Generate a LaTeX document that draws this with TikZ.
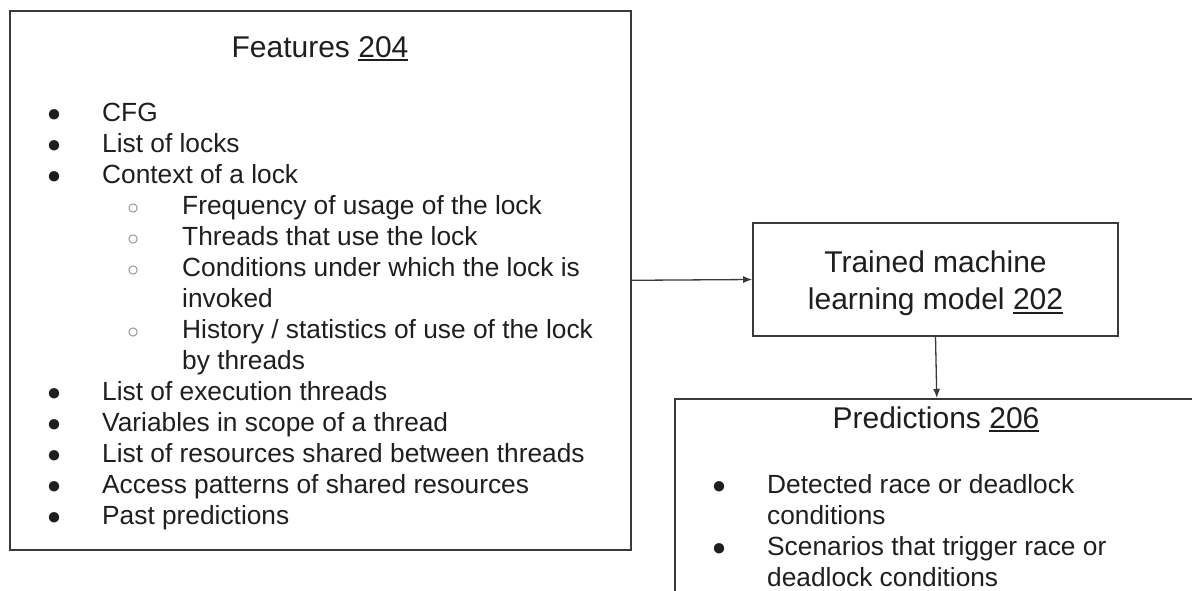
\documentclass[tikz,border=0pt]{standalone}
\usepackage{fontspec}
\setmainfont{Liberation Sans}
\usepackage{tikz}
\usetikzlibrary{positioning,arrows.meta}
\definecolor{linegray}{HTML}{3A3A3A}
\definecolor{textgray}{HTML}{1E1E1E}
\definecolor{dotgray}{HTML}{777777}
\tikzstyle{block} = [
	draw = linegray,
	line width = 1.6pt,
	rectangle,
	inner sep = 0pt
]
\tikzstyle{title} = [
	font = \fontsize{30}{37}\selectfont,
	text = textgray,
	inner sep = 0pt
]
% lists are placed by the baseline of their last line
\tikzstyle{list} = [
	font = \fontsize{26.3}{31}\selectfont,
	text = textgray,
	align = left,
	inner sep = 0pt,
	anchor = base west
]
\tikzstyle{link} = [
	draw = linegray,
	line width = 1.3pt
]

% list lines: filled bullet, hollow sub bullet, wrapped sub line
\newcommand{\bulletline}[1]{\makebox[62pt][l]{\makebox[28pt][c]{\fontsize{24}{24}\selectfont ●}}#1}
\newcommand{\circleline}[1]{\makebox[142pt][l]{\hspace{79pt}\makebox[28pt][c]{\color{dotgray}\fontsize{20}{20}\selectfont ○}}#1}
\newcommand{\wrapline}[1]{\hspace{142pt}#1}
% underlined reference numeral
\newcommand{\refnum}[1]{\setbox0\hbox{#1}\rlap{\rule[-4pt]{\wd0}{1.6pt}}\box0}

\begin{document}
\begin{tikzpicture}[x=1pt, y=-1pt, >={Latex[length=9pt,width=7pt]}]
	\useasboundingbox (0,0) rectangle (1192,590);
	\clip (0,0) rectangle (1192,590);
	
	\node [block, anchor=north west, minimum width=621pt, minimum height=539pt] (features) at (9,10) {};
	\node [block, minimum width=365pt, minimum height=113pt] (model) at (935.5,279.5) {};
	\node [block, anchor=north west, minimum width=524pt, minimum height=300pt] (predictions) at (674,398) {};
	
	\node [title, anchor=base] (featurestitle) at (320,57) {Features \refnum{204}};
	\node [list] (featurelist) at (40,524) {%
		\bulletline{CFG}\\
		\bulletline{List of locks}\\
		\bulletline{Context of a lock}\\
		\circleline{Frequency of usage of the lock}\\
		\circleline{Threads that use the lock}\\
		\circleline{Conditions under which the lock is}\\
		\wrapline{invoked}\\
		\circleline{History / statistics of use of the lock}\\
		\wrapline{by threads}\\
		\bulletline{List of execution threads}\\
		\bulletline{Variables in scope of a thread}\\
		\bulletline{List of resources shared between threads}\\
		\bulletline{Access patterns of shared resources}\\
		\bulletline{Past predictions}};
	
	\node [title, align=center] (modeltext) at ([yshift=-4pt]model.center) {Trained machine\\learning model \refnum{202}};
	
	\node [title, anchor=base] (predictionstitle) at (936,428) {Predictions \refnum{206}};
	\node [list] (predictionlist) at (705,586) {%
		\bulletline{Detected race or deadlock}\\
		\hspace{62pt}conditions\\
		\bulletline{Scenarios that trigger race or}\\
		\hspace{62pt}deadlock conditions};
	
	\draw [link, ->] (features.east) -- (model.west);
	\draw [link, ->] (model.south) -- (predictions.north);
\end{tikzpicture}
\end{document}
